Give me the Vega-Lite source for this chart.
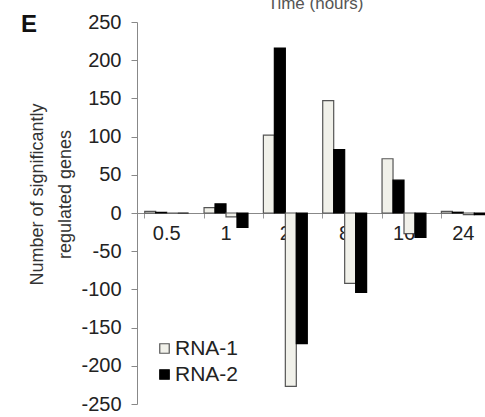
{
  "$schema": "https://vega.github.io/schema/vega-lite/v6.json",
  "autosize": {"type": "none"},
  "padding": {"left": 137, "top": 22, "right": 0, "bottom": 13},
  "width": 356,
  "height": 382,
  "background": "white",
  "config": {"view": {"stroke": null}, "font": "Liberation Sans"},
  "title": {"text": "E", "anchor": "start", "frame": "group", "orient": "top", "dx": -116, "dy": 62, "baseline": "alphabetic", "fontSize": 24, "fontWeight": "bold", "color": "#111", "offset": 0, "font": "Liberation Sans"},
  "data": {"values": [
    {"time": "0.5", "series": "RNA-1", "bar": "RNA-1 up", "value": 2},
    {"time": "0.5", "series": "RNA-2", "bar": "RNA-2 up", "value": 1},
    {"time": "0.5", "series": "RNA-1", "bar": "RNA-1 down", "value": 0},
    {"time": "0.5", "series": "RNA-2", "bar": "RNA-2 down", "value": 0},
    {"time": "1", "series": "RNA-1", "bar": "RNA-1 up", "value": 7},
    {"time": "1", "series": "RNA-2", "bar": "RNA-2 up", "value": 12},
    {"time": "1", "series": "RNA-1", "bar": "RNA-1 down", "value": -5},
    {"time": "1", "series": "RNA-2", "bar": "RNA-2 down", "value": -19},
    {"time": "2", "series": "RNA-1", "bar": "RNA-1 up", "value": 102},
    {"time": "2", "series": "RNA-2", "bar": "RNA-2 up", "value": 216},
    {"time": "2", "series": "RNA-1", "bar": "RNA-1 down", "value": -227},
    {"time": "2", "series": "RNA-2", "bar": "RNA-2 down", "value": -171},
    {"time": "8", "series": "RNA-1", "bar": "RNA-1 up", "value": 147},
    {"time": "8", "series": "RNA-2", "bar": "RNA-2 up", "value": 83},
    {"time": "8", "series": "RNA-1", "bar": "RNA-1 down", "value": -92},
    {"time": "8", "series": "RNA-2", "bar": "RNA-2 down", "value": -104},
    {"time": "16", "series": "RNA-1", "bar": "RNA-1 up", "value": 71},
    {"time": "16", "series": "RNA-2", "bar": "RNA-2 up", "value": 43},
    {"time": "16", "series": "RNA-1", "bar": "RNA-1 down", "value": -27},
    {"time": "16", "series": "RNA-2", "bar": "RNA-2 down", "value": -32},
    {"time": "24", "series": "RNA-1", "bar": "RNA-1 up", "value": 2},
    {"time": "24", "series": "RNA-2", "bar": "RNA-2 up", "value": 1},
    {"time": "24", "series": "RNA-1", "bar": "RNA-1 down", "value": -2},
    {"time": "24", "series": "RNA-2", "bar": "RNA-2 down", "value": -2}
  ]},
  "mark": {"type": "bar", "strokeWidth": 1.2},
  "encoding": {
    "x": {
      "field": "time", "type": "nominal",
      "sort": ["0.5", "1", "2", "8", "16", "24"],
      "scale": {"paddingInner": 0.26, "paddingOuter": 0.13},
      "axis": {
        "orient": "bottom", "offset": -191,
        "title": "Time (hours)", "titleY": -205, "titleBaseline": "alphabetic",
        "titleFontSize": 17, "titleFontWeight": "normal", "titleColor": "#555",
        "labelAngle": 0, "labelFontSize": 20, "labelColor": "#222", "labelPadding": 5,
        "domainColor": "#888", "tickColor": "#999", "tickSize": 5, "bandPosition": 0
      }
    },
    "xOffset": {
      "field": "bar", "type": "nominal",
      "sort": ["RNA-1 up", "RNA-2 up", "RNA-1 down", "RNA-2 down"],
      "scale": {"paddingInner": 0, "paddingOuter": 0}
    },
    "y": {
      "field": "value", "type": "quantitative",
      "scale": {"domain": [-250, 250], "nice": false},
      "axis": {
        "title": ["Number of significantly", "regulated genes"],
        "titleFontSize": 18, "titleFontWeight": "normal", "titleColor": "#333",
        "titleY": 172, "titleLineHeight": 28, "titlePadding": 6,
        "values": [-250, -200, -150, -100, -50, 0, 50, 100, 150, 200, 250],
        "labelExpr": "datum.value",
        "labelFontSize": 20, "labelColor": "#222", "labelPadding": 10,
        "grid": false, "domainColor": "#888", "tickColor": "#888", "tickSize": 6
      }
    },
    "color": {
      "field": "series", "type": "nominal",
      "scale": {"domain": ["RNA-1", "RNA-2"], "range": ["#f1f1ea", "#000000"]},
      "legend": {
        "title": null, "orient": "none", "legendX": 17, "legendY": 316,
        "symbolType": "square", "symbolSize": 90, "symbolStrokeWidth": 1.2,
        "labelFontSize": 21, "labelColor": "#222", "labelOffset": 0, "rowPadding": 4
      }
    },
    "stroke": {
      "field": "series", "type": "nominal",
      "scale": {"domain": ["RNA-1", "RNA-2"], "range": ["#555555", "#000000"]},
      "legend": null
    }
  }
}
